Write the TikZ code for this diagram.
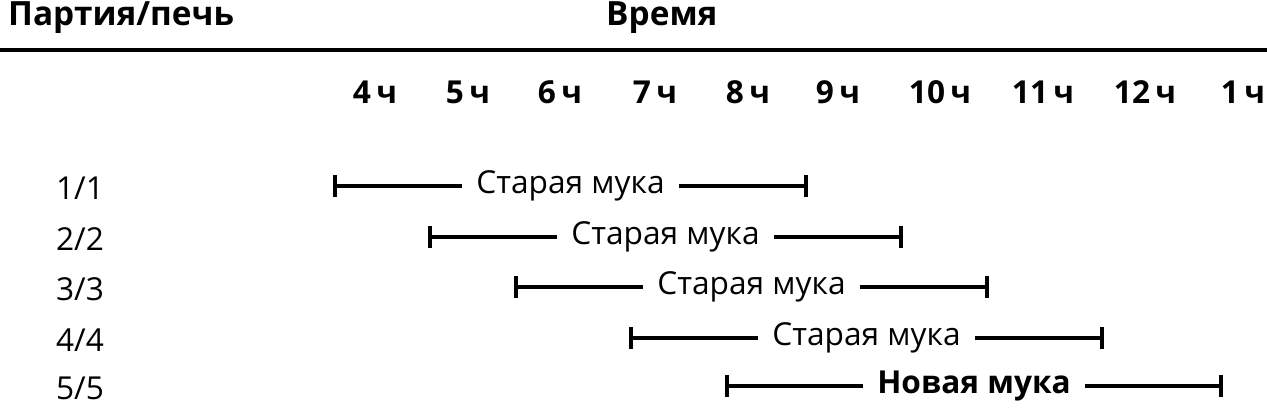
\documentclass[tikz,border=0pt]{standalone}
\usepackage{fontspec}
\setmainfont{Open Sans}
\tikzset{
    head/.style={font=\fontsize{19}{22}\selectfont\bfseries, anchor=west},
    hour/.style={font=\fontsize{18}{22}\selectfont\bfseries},
    batch/.style={font=\fontsize{18}{22}\selectfont},
    bar/.style={line width=2.2pt, |-|},
    flour/.style={fill=white, inner xsep=8pt, font=\fontsize{18}{22}\selectfont}
}
\begin{document}
\begin{tikzpicture}[x=0.02cm, y=-0.02cm]
    \useasboundingbox (0,0) rectangle (1267,410);
    % Header
    \node [head] (hbatch) at (2,18) {Партия/печь};
    \node [head] (htime) at (600,18) {Время};
    \coordinate (ruleL) at (0,50);
    \coordinate (ruleR) at (1267,50);
    \draw [line width=2.2pt] (ruleL) -- (ruleR);
    % Hours
    \foreach \x/\t [count=\i] in {375/4,468/5,560/6,655/7,748/8,838/9,940/10,1043/11,1145/12,1243/1}
        \node [hour] (h\i) at (\x,92) {\t\,ч};
    % Batches
    \foreach \a/\b/\y/\n in {333/808/186/1,428/903/237/2,514/989/287/3,629/1104/338/4}{
        \node [batch] (b\n) at (80,\y+2) {\n/\n};
        \coordinate (s\n) at (\a,\y);
        \coordinate (e\n) at (\b,\y);
        \draw [bar] (s\n) -- (e\n) node [flour, midway] (f\n) {Старая мука};
    }
    \node [batch] (b5) at (80,388) {5/5};
    \coordinate (s5) at (725,386);
    \coordinate (e5) at (1223,386);
    \draw [bar] (s5) -- (e5) node [flour, midway, font=\fontsize{18}{22}\selectfont\bfseries] (f5) {Новая мука};
\end{tikzpicture}
\end{document}
